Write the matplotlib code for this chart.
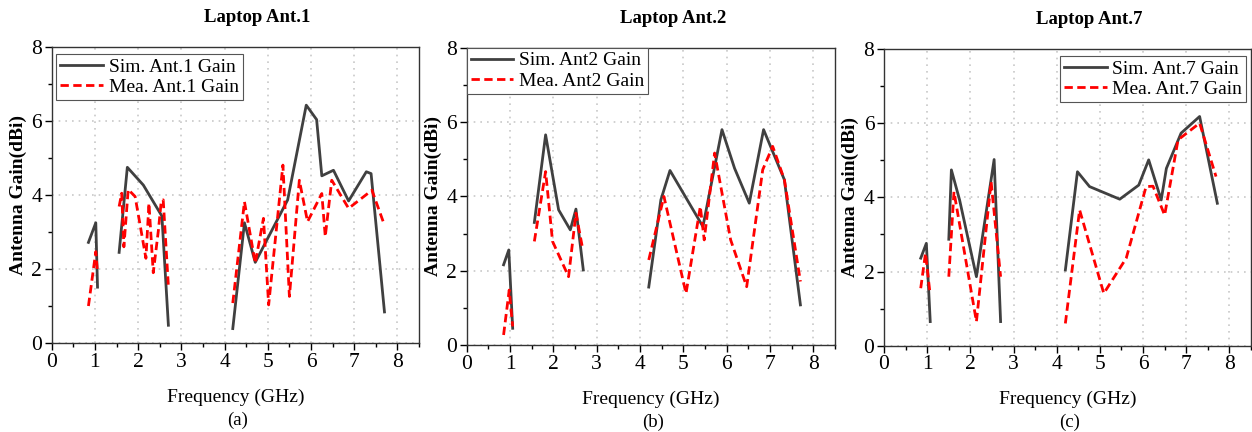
import numpy as np
import matplotlib
matplotlib.use("Agg")
import matplotlib.pyplot as plt
from matplotlib.ticker import MultipleLocator

plt.rcParams['font.family'] = ['Liberation Serif', 'DejaVu Serif']

# Frequency (GHz) / gain (dBi) per band
# Laptop Ant.1
sim1_f = [[0.85, 1.02, 1.06],
          [1.56, 1.75, 2.12, 2.55, 2.70],
          [4.19, 4.46, 4.71, 5.46, 5.89, 6.13, 6.25, 6.52, 6.87, 7.28, 7.39, 7.70]]
sim1_g = [[2.72, 3.25, 1.51],
          [2.45, 4.75, 4.27, 3.43, 0.48],
          [0.39, 3.25, 2.18, 3.87, 6.43, 6.04, 4.52, 4.67, 3.84, 4.63, 4.58, 0.84]]
mea1_f = [[0.85, 1.02, 1.06],
          [1.56, 1.62, 1.67, 1.77, 1.93, 2.18, 2.25, 2.35, 2.47, 2.53, 2.58, 2.70],
          [4.19, 4.46, 4.71, 4.90, 5.02, 5.35, 5.50, 5.73, 5.92, 6.25, 6.33, 6.48, 6.87, 7.41, 7.68]]
mea1_g = [[1.00, 2.47, 1.90],
          [3.69, 4.05, 2.60, 4.15, 3.96, 2.29, 3.78, 1.90, 3.06, 3.78, 3.87, 1.53],
          [1.08, 3.82, 2.16, 3.37, 1.03, 4.81, 1.26, 4.40, 3.28, 4.04, 2.88, 4.40, 3.64, 4.13, 3.25]]

# Laptop Ant.2
sim2_f = [[0.85, 0.97, 1.06],
          [1.56, 1.82, 2.12, 2.39, 2.52, 2.69],
          [4.20, 4.48, 4.69, 5.45, 5.89, 6.18, 6.52, 6.85, 7.33, 7.70]]
sim2_g = [[2.16, 2.56, 0.45],
          [3.30, 5.66, 3.64, 3.10, 3.66, 2.02],
          [1.56, 3.91, 4.70, 3.19, 5.80, 4.76, 3.82, 5.80, 4.45, 1.08]]
mea2_f = [[0.85, 0.98, 1.06],
          [1.56, 1.82, 1.98, 2.35, 2.52, 2.68],
          [4.20, 4.55, 5.06, 5.39, 5.48, 5.72, 6.09, 6.46, 6.83, 7.06, 7.33, 7.70]]
mea2_g = [[0.27, 1.48, 0.50],
          [2.79, 4.67, 2.79, 1.84, 3.55, 2.56],
          [2.29, 4.00, 1.39, 3.73, 2.83, 5.17, 2.83, 1.57, 4.72, 5.35, 4.45, 1.71]]

# Laptop Ant.7
sim7_f = [[0.85, 0.98, 1.07],
          [1.50, 1.56, 1.75, 2.14, 2.55, 2.70],
          [4.20, 4.48, 4.76, 5.46, 5.90, 6.13, 6.42, 6.54, 6.88, 7.31, 7.72]]
sim7_g = [[2.36, 2.76, 0.65],
          [2.87, 4.74, 3.93, 1.86, 5.02, 0.65],
          [2.04, 4.69, 4.29, 3.95, 4.33, 5.01, 3.93, 4.78, 5.73, 6.18, 3.84]]
mea7_f = [[0.85, 0.96, 1.06],
          [1.50, 1.62, 2.14, 2.48, 2.70],
          [4.20, 4.53, 5.09, 5.61, 6.07, 6.23, 6.50, 6.81, 7.31, 7.69]]
mea7_g = [[1.55, 2.49, 1.46],
          [1.86, 4.15, 0.65, 4.42, 1.86],
          [0.60, 3.66, 1.41, 2.36, 4.29, 4.30, 3.52, 5.55, 6.00, 4.56]]

titles = ['Laptop Ant.1', 'Laptop Ant.2', 'Laptop Ant.7']
sim_labels = ['Sim. Ant.1 Gain', 'Sim. Ant2 Gain', 'Sim. Ant.7 Gain']
mea_labels = ['Mea. Ant.1 Gain', 'Mea. Ant2 Gain', 'Mea. Ant.7 Gain']
sub_labels = ['(a)', '(b)', '(c)']


def join_bands(freqs, gains):
    # put a NaN between bands so the line breaks
    f, g = [], []
    for fb, gb in zip(freqs, gains):
        f += fb + [np.nan]
        g += gb + [np.nan]
    return np.array(f), np.array(g)


fig = plt.figure(figsize=(12.52, 4.32), dpi=100)
positions = [[0.0413, 0.206, 0.2934, 0.685],
             [0.3728, 0.2014, 0.2942, 0.6876],
             [0.7061, 0.1998, 0.2931, 0.6868]]
legend_locs = [(0.012, 0.976, 'upper left'), (0.0, 1.0, 'upper left'), (0.987, 0.976, 'upper right')]
series = [(sim1_f, sim1_g, mea1_f, mea1_g),
          (sim2_f, sim2_g, mea2_f, mea2_g),
          (sim7_f, sim7_g, mea7_f, mea7_g)]

for i in range(3):
    ax = fig.add_axes(positions[i])
    sf, sg, mf, mg = series[i]
    x, y = join_bands(sf, sg)
    ax.plot(x, y, color='#404040', lw=2, label=sim_labels[i])
    x, y = join_bands(mf, mg)
    ax.plot(x, y, color='#ff0000', lw=2, dashes=(3, 1.6), label=mea_labels[i])

    ax.set_xlim(0, 8.5)
    ax.set_ylim(0, 8)
    ax.xaxis.set_major_locator(MultipleLocator(1))
    ax.xaxis.set_minor_locator(MultipleLocator(0.5))
    ax.yaxis.set_major_locator(MultipleLocator(2))
    ax.yaxis.set_minor_locator(MultipleLocator(1))
    ax.tick_params(which='major', direction='out', length=5, width=1, labelsize=15.5, pad=2)
    ax.tick_params(which='minor', direction='out', length=3, width=1)
    ax.grid(True, which='major', color='#c8c8c8', linestyle=(0, (1, 3)), lw=1.2)
    for sp in ax.spines.values():
        sp.set_color('#333333')
        sp.set_linewidth(1)

    ax.set_ylabel('Antenna Gain(dBi)', fontsize=14, fontweight='bold', labelpad=3)
    ax.set_xlabel('Frequency (GHz)', fontsize=14, labelpad=12)
    ax.text(0.505, -0.26, sub_labels[i], transform=ax.transAxes, ha='center', va='center', fontsize=13.5)
    ax.text(0.56, 1.10, titles[i], transform=ax.transAxes, ha='center', va='center',
            fontsize=13.5, fontweight='bold')

    lx, ly, loc = legend_locs[i]
    leg = ax.legend(loc=loc, bbox_to_anchor=(lx, ly), fontsize=14, frameon=True, fancybox=False,
                    framealpha=1, edgecolor='#555555', handlelength=2.2, borderaxespad=0,
                    borderpad=0.2, labelspacing=0.15, handletextpad=0.3)
    leg.get_frame().set_linewidth(0.8)

fig.savefig('out.png', dpi=100)
